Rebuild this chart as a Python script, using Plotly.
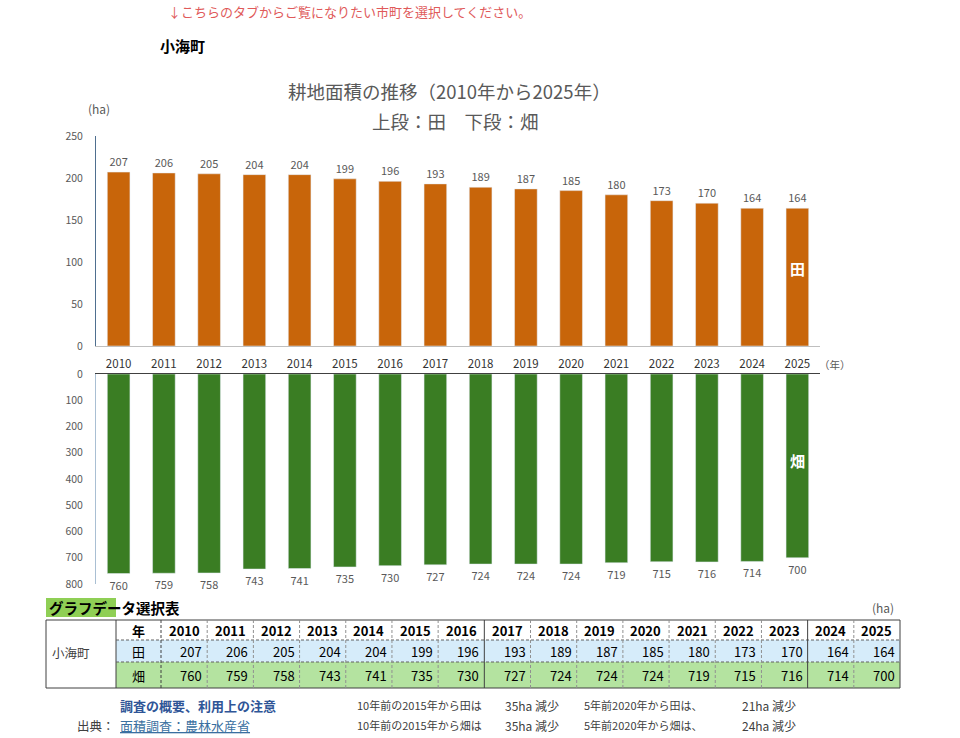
import plotly.graph_objects as go

# ---------------- data ----------------
years = [str(y) for y in range(2010, 2026)]
ta = [207, 206, 205, 204, 204, 199, 196, 193, 189, 187, 185, 180, 173, 170, 164, 164]      # 田
hata = [760, 759, 758, 743, 741, 735, 730, 727, 724, 724, 724, 719, 715, 716, 714, 700]  # 畑
top_ticks = [0, 50, 100, 150, 200, 250]
bot_ticks = [0, 100, 200, 300, 400, 500, 600, 700, 800]
town = "小海町"

W, H = 960, 738
FONT = "Noto Sans CJK JP"

def px(x):
    return x / W

def py(y):
    return 1 - y / H

ORANGE = "#C8650A"
GREEN = "#3A7D23"
GRAY = "#595959"

fig = go.Figure()
fig.add_trace(go.Bar(x=years, y=ta, marker_color=ORANGE, width=0.5,
                     text=ta, textposition="outside", cliponaxis=False,
                     textfont=dict(size=11, color=GRAY, family=FONT),
                     xaxis="x", yaxis="y", showlegend=False))
fig.add_trace(go.Bar(x=years, y=hata, marker_color=GREEN, width=0.5,
                     text=hata, textposition="outside", cliponaxis=False,
                     textfont=dict(size=11, color=GRAY, family=FONT),
                     xaxis="x2", yaxis="y2", showlegend=False))

xdom = [px(96), px(820)]
xr = [-0.5, len(years) - 0.5]
fig.update_layout(
    width=W, height=H, margin=dict(l=0, r=0, t=0, b=0, pad=0, autoexpand=False),
    paper_bgcolor="white", plot_bgcolor="white",
    font=dict(family=FONT, color=GRAY),
    xaxis=dict(domain=xdom, anchor="y", type="category", range=xr, showline=True, linecolor="#BFBFBF",
               linewidth=1, showgrid=False, ticks="", tickfont=dict(size=11.5, color="#333333"),
               ticklabelstandoff=7, automargin=False),
    yaxis=dict(domain=[py(346), py(136)], anchor="x", range=[0, 250], tickvals=top_ticks,
               showgrid=False, showline=True, linecolor="#4F6F8F", linewidth=1, ticks="",
               tickfont=dict(size=10.5, color=GRAY), ticklabelstandoff=10, zeroline=False, automargin=False),
    xaxis2=dict(domain=xdom, anchor="y2", type="category", range=xr, side="top", showline=True,
                linecolor="#404040", linewidth=1, showgrid=False, ticks="", showticklabels=False,
                automargin=False),
    yaxis2=dict(domain=[py(584), py(374)], anchor="x2", range=[800, 0], tickvals=bot_ticks,
                showgrid=False, showline=True, linecolor="#A9BFD3", linewidth=1, ticks="",
                tickfont=dict(size=10.5, color=GRAY), ticklabelstandoff=10, zeroline=False, automargin=False),
)

ann = []
shapes = []

def A(x, y, text, size=12, color="#000000", xanchor="center", bold=False, **kw):
    if bold:
        text = "<b>" + text + "</b>"
    ann.append(dict(x=px(x), y=py(y), xref="paper", yref="paper", text=text, showarrow=False,
                    xanchor=xanchor, yanchor="middle", font=dict(size=size, color=color, family=FONT), **kw))

# header texts
A(166, 11, "↓こちらのタブからご覧になりたい市町を選択してください。", size=13, color="#E05A5A", xanchor="left")
A(158, 45, town, size=15, color="#000000", xanchor="left", bold=True)
A(449, 91, "耕地面積の推移（2010年から2025年）", size=18.5, color=GRAY)
A(455, 121, "上段：田　下段：畑", size=18.5, color=GRAY)
A(86, 108, "(ha)", size=12, color=GRAY, xanchor="left")
A(817, 364, "（年）", size=10.5, color=GRAY, xanchor="left")

# series labels inside last bars (category index of last year)
last = len(years) - 1
ann.append(dict(x=last, y=ta[-1] * 0.56, xref="x", yref="y", text="<b>田</b>", showarrow=False,
                font=dict(size=15, color="white", family=FONT)))
ann.append(dict(x=last, y=hata[-1] * 0.47, xref="x2", yref="y2", text="<b>畑</b>", showarrow=False,
                font=dict(size=15, color="white", family=FONT)))

# ---------------- table ----------------
tx0, tx1, tx2, tx3 = 46, 116, 161, 900
ty0, ty1, ty2, ty3 = 620, 640, 662, 688
cw = (tx3 - tx2) / len(years)

def rect(x0, y0, x1, y1, fill):
    shapes.append(dict(type="rect", xref="paper", yref="paper", x0=px(x0), x1=px(x1),
                       y0=py(y1), y1=py(y0), fillcolor=fill, line=dict(width=0), layer="below"))

def hline(x0, x1, y, color="#404040", dash="solid", width=1):
    shapes.append(dict(type="line", xref="paper", yref="paper", x0=px(x0), x1=px(x1), y0=py(y), y1=py(y),
                       line=dict(color=color, dash=dash, width=width)))

def vline(x, y0, y1, color="#404040", dash="solid", width=1):
    shapes.append(dict(type="line", xref="paper", yref="paper", x0=px(x), x1=px(x), y0=py(y0), y1=py(y1),
                       line=dict(color=color, dash=dash, width=width)))

rect(46, 598, 116, 617, "#8FCF55")
A(47, 607, "グラフデータ選択表", size=14.5, color="#000000", xanchor="left", bold=True)
A(896, 607, "(ha)", size=12, color=GRAY, xanchor="right")

rect(tx1, ty1, tx3, ty2, "#D6ECFA")
rect(tx1, ty2, tx3, ty3, "#B4E3A0")

hline(tx0, tx3, ty0)
hline(tx0, tx3, ty3)
vline(tx0, ty0, ty3)
vline(tx3, ty0, ty3)
vline(tx1, ty0, ty3)
hline(tx1, tx3, ty1, color="#606060", dash="3px,2px")
hline(tx1, tx3, ty2, color="#606060", dash="3px,2px")
vline(tx2, ty0, ty3, color="#404040", dash="3px,2px")
for k in range(1, len(years)):
    if k in (7, 14):
        vline(tx2 + k * cw, ty0, ty3, color="#404040")
    else:
        vline(tx2 + k * cw, ty0, ty3, color="#909090", dash="3px,2px")

A(50, (ty0 + ty3) / 2 - 2, town, size=12.5, color="#404040", xanchor="left")
A((tx1 + tx2) / 2, (ty0 + ty1) / 2, "年", size=13, color="#000000", bold=True)
A((tx1 + tx2) / 2, (ty1 + ty2) / 2, "田", size=13, color="#000000")
A((tx1 + tx2) / 2, (ty2 + ty3) / 2, "畑", size=13, color="#000000")
for i, y in enumerate(years):
    cx = tx2 + i * cw
    A(cx + cw / 2, (ty0 + ty1) / 2, y, size=13, color="#000000", bold=True)
    A(cx + cw - 3, (ty1 + ty2) / 2, str(ta[i]), size=13, color="#000000", xanchor="right")
    A(cx + cw - 3, (ty2 + ty3) / 2, str(hata[i]), size=13, color="#000000", xanchor="right")

# ---------------- footer ----------------
d10_ta = ta[5] - ta[-1]
d5_ta = ta[10] - ta[-1]
d10_h = hata[5] - hata[-1]
d5_h = hata[10] - hata[-1]
A(118, 705, "調査の概要、利用上の注意", size=13, color="#2F5597", xanchor="left", bold=True)
A(75, 725, "出典：", size=12.5, color="#404040", xanchor="left")
A(118, 725, "<u>面積調査：農林水産省</u>", size=13, color="#3A6FA0", xanchor="left")
A(355, 705, "10年前の2015年から田は", size=11, color="#404040", xanchor="left")
A(355, 725, "10年前の2015年から畑は", size=11, color="#404040", xanchor="left")
A(503, 705, f"{d10_ta}ha 減少", size=12, color="#404040", xanchor="left")
A(503, 725, f"{d10_h}ha 減少", size=12, color="#404040", xanchor="left")
A(582, 705, "5年前2020年から田は、", size=11, color="#404040", xanchor="left")
A(582, 725, "5年前2020年から畑は、", size=11, color="#404040", xanchor="left")
A(740, 705, f"{d5_ta}ha 減少", size=12, color="#404040", xanchor="left")
A(740, 725, f"{d5_h}ha 減少", size=12, color="#404040", xanchor="left")

fig.update_layout(annotations=ann, shapes=shapes)
fig.write_html("out.html")
